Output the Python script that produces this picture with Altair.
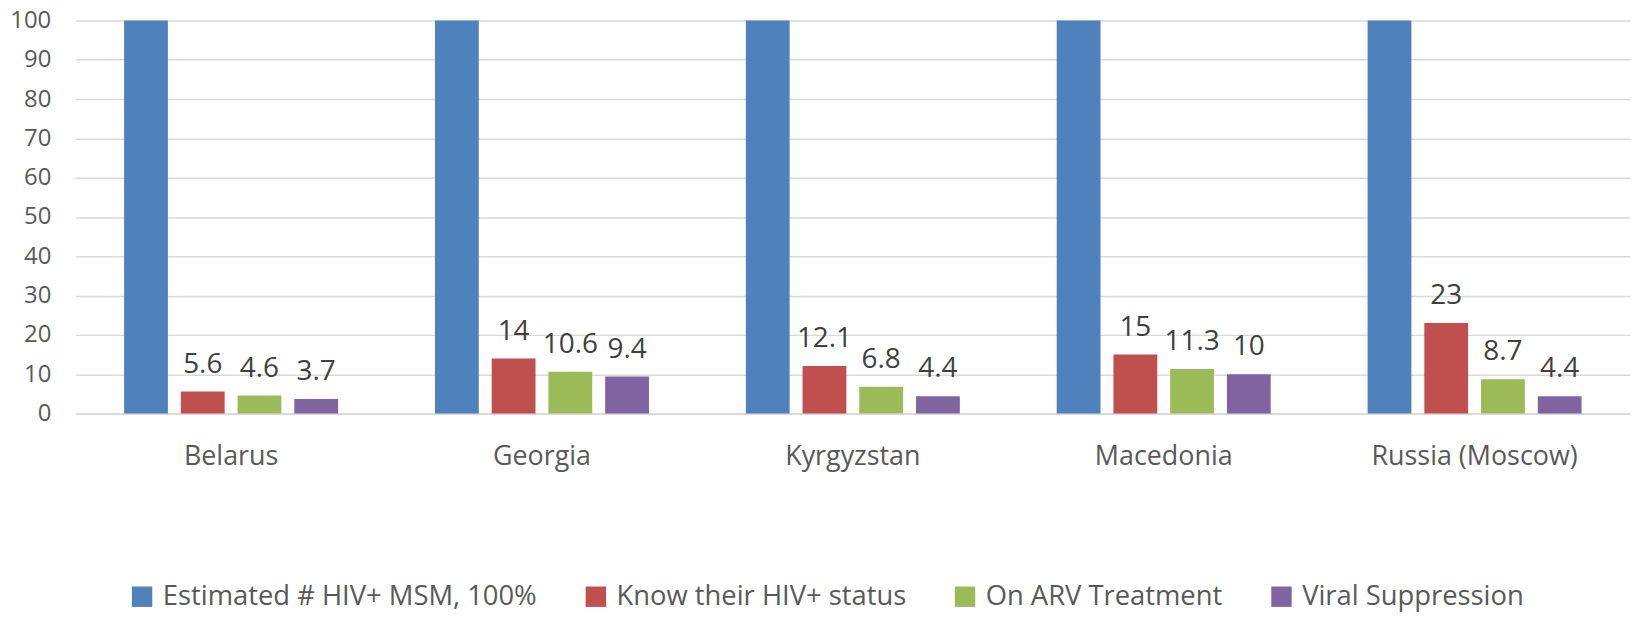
import altair as alt
import pandas as pd

countries = ["Belarus", "Georgia", "Kyrgyzstan", "Macedonia", "Russia (Moscow)"]
series = ["Estimated # HIV+ MSM, 100%", "Know their HIV+ status", "On ARV Treatment", "Viral Suppression"]
estimated = [100, 100, 100, 100, 100]
know_status = [5.6, 14, 12.1, 15, 23]
on_arv = [4.6, 10.6, 6.8, 11.3, 8.7]
viral_supp = [3.7, 9.4, 4.4, 10, 4.4]
y_ticks = [0, 10, 20, 30, 40, 50, 60, 70, 80, 90, 100]
colors = ["#4F81BD", "#C0504D", "#9BBB59", "#8064A2"]

rows = []
for s_i, (s, vals) in enumerate(zip(series, [estimated, know_status, on_arv, viral_supp])):
    for c, v in zip(countries, vals):
        rows.append({"country": c, "series": s, "order": s_i, "value": v, "labelled": s_i > 0})
df = pd.DataFrame(rows)

FONT = "Open Sans"

x = alt.X("country:N", sort=countries, title=None,
          scale=alt.Scale(paddingInner=0, paddingOuter=0),
          axis=alt.Axis(labelAngle=0, labelFontSize=27, labelColor="#595959", labelFont=FONT,
                        labelPadding=30, ticks=False, domainColor="#D9D9D9", domainWidth=1.5,
                        labelLimit=0))
xo = alt.XOffset("series:N", sort=series, scale=alt.Scale(paddingInner=0.228, paddingOuter=0.854))
y = alt.Y("value:Q", title=None, scale=alt.Scale(domain=[0, 100], nice=False),
          axis=alt.Axis(values=y_ticks, labelFontSize=24, labelColor="#595959",
                        labelFont=FONT, labelPadding=25, ticks=False, domain=False,
                        labelOverlap=False, gridColor="#D9D9D9", gridWidth=1.5))

bars = alt.Chart(df).mark_bar().encode(
    x=x, xOffset=xo, y=y,
    color=alt.Color("series:N", sort=series,
                    scale=alt.Scale(domain=series, range=colors),
                    legend=alt.Legend(title=None, orient="none", direction="horizontal",
                                      legendX=53, legendY=565, symbolType="square",
                                      symbolSize=420, symbolStrokeWidth=0, symbolOpacity=1,
                                      labelFontSize=27.5, labelColor="#595959", labelFont=FONT,
                                      labelOffset=7, columnPadding=45, labelLimit=0)),
)

labels = alt.Chart(df).transform_filter("datum.labelled").mark_text(
    fontSize=28, font=FONT, color="#404040", baseline="alphabetic", dy=-19
).encode(
    x=x, xOffset=xo, y=y,
    text=alt.Text("value:Q", format="~g"),
)

chart = (bars + labels).properties(
    width=1562, height=395,
    autosize=alt.AutoSizeParams(type="none"),
    padding={"left": 68, "top": 11, "right": 2, "bottom": 199},
).configure_view(stroke=None)

chart.save("out.html", embed_options={"renderer": "svg", "actions": False})
